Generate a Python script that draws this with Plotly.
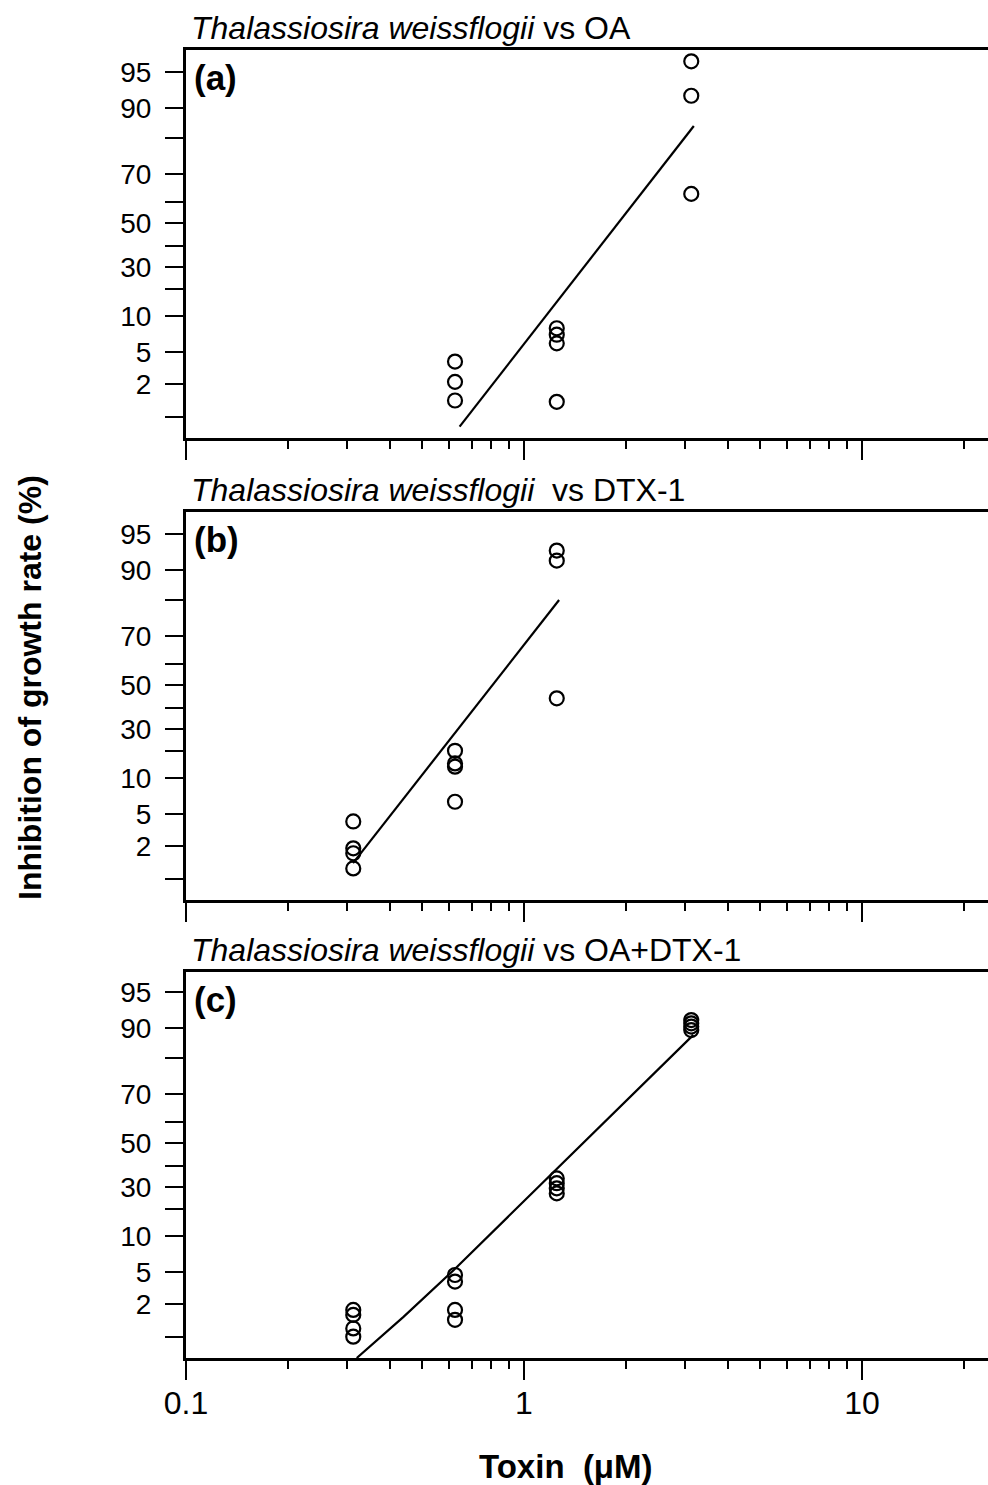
import numpy as np
import plotly.graph_objects as go

# ---- probability-style y scale (percent -> axis units) ----
SCALE_PCT = [0.5, 1, 2, 5, 10, 20, 30, 40, 50, 60, 70, 80, 90, 95, 99]
SCALE_POS = [-9, 21, 54, 86, 122, 149, 171, 192, 215, 236, 264, 300, 330, 366, 427]
Y_TICK_VALS = [1, 2, 5, 10, 20, 30, 40, 50, 60, 70, 80, 90, 95]
Y_TICK_TEXT = ["", "2", "5", "10", "", "30", "", "50", "", "70", "", "90", "95"]

X_MAJOR = [0.1, 1, 10]
X_MAJOR_TEXT = ["0.1", "1", "10"]
X_MINOR = [0.2, 0.3, 0.4, 0.5, 0.6, 0.7, 0.8, 0.9, 2, 3, 4, 5, 6, 7, 8, 9, 20]

# ---- data (toxin concentration, uM ; inhibition of growth rate, %) ----
conc_a = [0.625, 0.625, 0.625, 1.25, 1.25, 1.25, 1.25, 3.125, 3.125, 3.125]
inh_a = [4.1, 2.2, 1.5, 8.3, 7.4, 6.2, 1.46, 95.7, 91.7, 62.9]
fit_a_x = [0.645, 3.18]
fit_a_y = [0.84, 84]

conc_b = [0.3125, 0.3125, 0.3125, 0.3125, 0.625, 0.625, 0.625, 0.625, 1.25, 1.25, 1.25]
inh_b = [4.3, 1.93, 1.78, 1.32, 20.1, 15.4, 14.2, 6.7, 92.7, 91.3, 44.2]
fit_b_x = [0.312, 1.27]
fit_b_y = [1.48, 80]

conc_c = [0.3125] * 4 + [0.625] * 4 + [1.25] * 4 + [3.125] * 4
inh_c = [1.82, 1.67, 1.26, 1.01, 4.72, 4.1, 1.82, 1.52,
         34.1, 31.8, 29.4, 27.1, 91.1, 90.65, 90.2, 89.3]
fit_c_x = [0.32, 0.44, 0.62, 1.26, 3.17]
fit_c_y = [0.65, 1.61, 5.28, 39.0, 87.7]

TITLES = ["<i>Thalassiosira weissflogii</i> vs OA",
          "<i>Thalassiosira weissflogii</i>  vs DTX-1",
          "<i>Thalassiosira weissflogii</i> vs OA+DTX-1"]
LABELS = ["(a)", "(b)", "(c)"]


def yscale(p):
    return np.interp(np.asarray(p, dtype=float), SCALE_PCT, SCALE_POS)


FONT = "Liberation Sans, Arial, sans-serif"
W, H = 988, 1485
ML, MR, MT, MB = 186, 0, 50, 127
PH = H - MT - MB
PLOT_BOTTOM = H - MB

panels_px = [(50, 438), (512, 900), (972, 1358)]  # (top, bottom) in page pixels


def py(p):
    return (PLOT_BOTTOM - p) / PH


fig = go.Figure()
datasets = [(conc_a, inh_a, fit_a_x, fit_a_y),
            (conc_b, inh_b, fit_b_x, fit_b_y),
            (conc_c, inh_c, fit_c_x, fit_c_y)]

for i, (cx, cy, fx, fy) in enumerate(datasets):
    sfx = "" if i == 0 else str(i + 1)
    fig.add_trace(go.Scatter(x=fx, y=yscale(fy), mode="lines",
                             line=dict(color="black", width=2.2),
                             xaxis="x" + sfx, yaxis="y" + sfx, showlegend=False))
    fig.add_trace(go.Scatter(x=cx, y=yscale(cy), mode="markers",
                             marker=dict(symbol="circle-open", size=14, color="black",
                                         line=dict(width=2.2, color="black")),
                             xaxis="x" + sfx, yaxis="y" + sfx, showlegend=False))

layout = dict(width=W, height=H, margin=dict(l=ML, r=MR, t=MT, b=MB),
              paper_bgcolor="white", plot_bgcolor="white",
              font=dict(family=FONT, size=32, color="black"))

xr = [-1, -1 + (W - ML - MR) / 338.0]
annotations = []
for i, (top, bot) in enumerate(panels_px):
    sfx = "" if i == 0 else str(i + 1)
    hpx = bot - top
    layout["xaxis" + sfx] = dict(
        type="log", range=xr, anchor="y" + sfx, domain=[0, 1],
        showline=True, linewidth=3, linecolor="black", mirror=True,
        showgrid=False, zeroline=False,
        tickmode="array", tickvals=X_MAJOR, ticktext=X_MAJOR_TEXT,
        ticks="outside", ticklen=19, tickwidth=2.2, tickcolor="black",
        showticklabels=(i == 2), tickfont=dict(size=32), ticklabelstandoff=-4,
        minor=dict(tickmode="array", tickvals=X_MINOR, ticks="outside",
                   ticklen=8, tickwidth=2, tickcolor="black", showgrid=False),
    )
    layout["yaxis" + sfx] = dict(
        range=[0, hpx], anchor="x" + sfx, domain=[py(bot), py(top)],
        showline=True, linewidth=3, linecolor="black",
        showgrid=False, zeroline=False,
        tickmode="array", tickvals=list(yscale(Y_TICK_VALS)), ticktext=Y_TICK_TEXT,
        ticks="outside", ticklen=18, tickwidth=2.2, tickcolor="black",
        ticklabelstandoff=8, tickfont=dict(size=28),
    )
    annotations.append(dict(text=TITLES[i], xref="paper", yref="paper",
                            x=0, y=py(top - 22), xanchor="left", yanchor="middle",
                            xshift=3, showarrow=False, font=dict(size=32)))
    annotations.append(dict(text="<b>" + LABELS[i] + "</b>", xref="paper", yref="paper",
                            x=0, y=py(top + 27), xanchor="left", yanchor="middle",
                            xshift=6, showarrow=False, font=dict(size=35)))

annotations.append(dict(text="<b>Inhibition of growth rate (%)</b>", xref="paper", yref="paper",
                        x=(30 - ML) / (W - ML - MR), y=py(688), xanchor="center", yanchor="middle",
                        textangle=-90, showarrow=False, font=dict(size=32)))
annotations.append(dict(text="<b>Toxin  (\u03bcM)</b>", xref="paper", yref="paper",
                        x=(566 - ML) / (W - ML - MR), y=py(1466), xanchor="center", yanchor="middle",
                        showarrow=False, font=dict(size=33)))
layout["annotations"] = annotations

fig.update_layout(**layout)
fig.write_html("out.html")
